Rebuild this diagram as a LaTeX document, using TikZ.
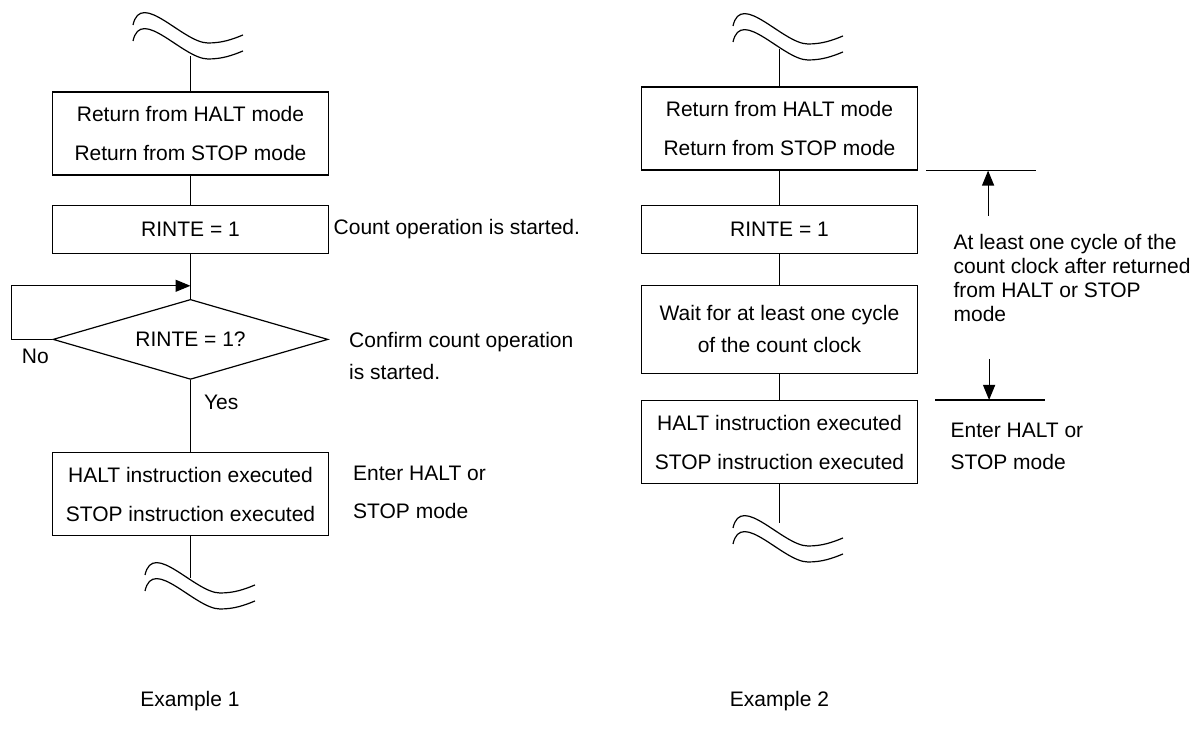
\documentclass[tikz,border=0pt]{standalone}
\usepackage{fontspec}
\setmainfont{Liberation Sans}
\usetikzlibrary{arrows.meta,positioning,shapes.geometric}

\begin{document}
\begin{tikzpicture}[
  x=0.5pt, y=-0.5pt,
  line width=0.6pt,
  font=\fontsize{10.5}{19.5}\selectfont,
  box/.style={draw,rectangle,align=center,inner sep=0pt,
              minimum width=138pt,minimum height=41.5pt},
  cond/.style={draw,diamond,aspect=3.44,inner sep=0pt,
               minimum width=137.5pt,minimum height=40pt},
  note/.style={align=left,inner sep=0pt},
  tip/.style={-{Triangle[length=7.5pt,width=6pt]}}
]
\useasboundingbox (0,0) rectangle (1196,731);

% break marks
\foreach \sx/\sy in {133/25,145/575,733/26,733/528}
  \foreach \dy in {0,16}
    \draw[shift={(\sx,\sy+\dy)}] (0,0) .. controls (8,-36) and (50,18) .. (75,18)
      .. controls (90,18) and (100,14) .. (110,10);

% Example 1
\node[box] (ret1) at (190.5,133.5) {Return from HALT mode\\Return from STOP mode};
\node[box,below=14.5pt of ret1,minimum height=24pt] (rinte1) {RINTE = 1};
\node[cond,below=22.5pt of rinte1] (chk) {RINTE = 1?};
\node[box,below=36pt of chk] (halt1) {HALT instruction executed\\STOP instruction executed};
\coordinate (brk1) at (190.5,56);
\coordinate (brk2) at (190.5,578);
\coordinate[above=6.5pt of chk.north] (join);

\draw (brk1) -- (ret1);
\draw (ret1) -- (rinte1);
\draw (rinte1) -- (chk);
\draw[tip] (chk.west) -- ++(-41,0) |- (join);
\draw (chk) -- (halt1);
\draw (halt1) -- (brk2);

\node[note,right=2pt of rinte1] (cnt) {Count operation is started.};
\node[note,right=10pt of chk,yshift=-8.5pt,font=\fontsize{10.5}{16}\selectfont] (conf)
  {Confirm count operation\\is started.};
\node[note,below left=4.5pt and 1.5pt of chk.west] (no) {No};
\node[note,below right=7pt and 6.5pt of chk.south] (yes) {Yes};
\node[note,right=11.75pt of halt1,yshift=1pt,font=\fontsize{10.5}{19}\selectfont] (enter1)
  {Enter HALT or\\STOP mode};

% Example 2
\node[box] (ret2) at (779.5,128.5) {Return from HALT mode\\Return from STOP mode};
\node[box,below=17pt of ret2,minimum height=24pt] (rinte2) {RINTE = 1};
\node[box,below=15.5pt of rinte2,minimum height=44pt,font=\fontsize{10.5}{16}\selectfont] (wait2)
  {Wait for at least one cycle\\of the count clock};
\node[box,below=13pt of wait2] (halt2) {HALT instruction executed\\STOP instruction executed};
\coordinate (brk3) at (779.5,49);
\coordinate (brk4) at (779.5,523);

\draw (brk3) -- (ret2);
\draw (ret2) -- (rinte2);
\draw (rinte2) -- (wait2);
\draw (wait2) -- (halt2);
\draw (halt2) -- (brk4);

% interval marks
\coordinate[right=4pt of ret2.south east] (up1);
\coordinate[right=55pt of up1] (up2);
\coordinate[right=31pt of up1] (upa);
\coordinate[below=22.5pt of upa] (upb);
\coordinate[right=8.5pt of halt2.north east] (dn1);
\coordinate[right=55pt of dn1] (dn2);
\coordinate[right=27pt of dn1] (dna);
\coordinate[above=20.5pt of dna] (dnb);
\draw (up1) -- (up2);
\draw (dn1) -- (dn2);
\draw[tip] (upb) -- (upa);
\draw[tip] (dnb) -- (dna);

\node[note,anchor=west,font=\fontsize{10.5}{12}\selectfont] (gap) at (953,278)
  {At least one cycle of the\\count clock after returned\\from HALT or STOP\\mode};
\node[note,anchor=west,font=\fontsize{10.5}{16}\selectfont] (enter2) at (950,446)
  {Enter HALT or\\STOP mode};

% captions
\node (ex1) at (190,701) {Example 1};
\node (ex2) at (779.5,701) {Example 2};
\end{tikzpicture}
\end{document}
